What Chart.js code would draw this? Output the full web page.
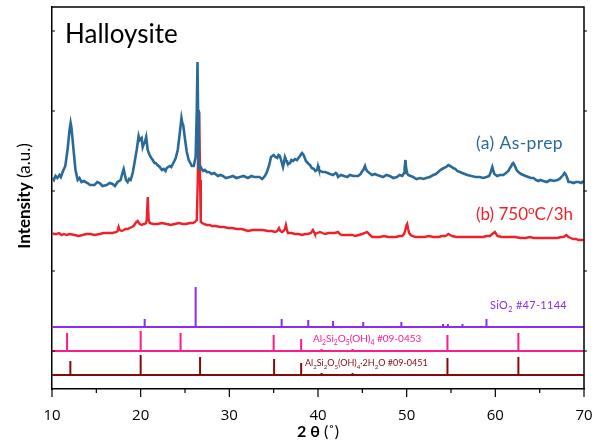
<!DOCTYPE html>
<html><head><meta charset="utf-8">
<script src="https://cdn.jsdelivr.net/npm/chart.js@4/dist/chart.umd.min.js"></script>
<style>html,body{margin:0;padding:0;background:#fff;}canvas{display:block}</style>
</head><body>
<canvas id="c" width="597" height="448"></canvas>
<script>
// ---- data (2θ in degrees, intensity in arbitrary units) ----
const asPrep = [
[10.0,211],[10.2,209],[10.4,213],[10.6,211],[10.85,214],[11.0,212],[11.2,217],[11.5,223],[11.75,239],[11.98,259],[12.1,266],[12.2,261],
[12.43,239],[12.65,219],[12.9,209],[13.1,211],[13.33,207],[13.6,208],[14.0,206],[14.3,204],[14.8,204],[15.1,207],[15.37,206],[15.7,203],
[16.16,204],[16.5,206],[16.84,205],[17.1,203],[17.4,207],[17.74,209],[17.97,217],[18.08,220],[18.2,215],[18.35,209],[18.53,207],[18.7,210],
[18.87,209],[19.1,216],[19.32,227],[19.55,239],[19.77,253],[19.9,249],[20.0,250],[20.11,251],[20.23,242],[20.35,245],[20.45,246],[20.62,252],
[20.79,239],[21.0,234],[21.2,231],[21.36,229],[21.55,226],[21.7,226],[21.9,224],[22.15,222],[22.4,219],[22.6,220],[22.8,218],[22.94,221],
[23.1,222],[23.28,223],[23.45,222],[23.62,225],[23.8,228],[23.95,231],[24.18,239],[24.4,255],[24.6,271],[24.7,266],[24.8,264],[24.97,252],
[25.2,237],[25.42,229],[25.6,226],[25.76,223],[25.99,223],[26.2,232],[26.33,279],[26.41,327],[26.47,279],[26.55,221],[26.7,223],[26.9,220],
[27.05,218],[27.23,219],[27.46,217],[27.7,217],[28.02,215],[28.3,216],[28.7,213],[29.0,214],[29.27,213],[29.6,211],[30.06,212],[30.4,213],
[30.8,211],[31.2,212],[31.6,213],[32.1,211],[32.5,213],[32.8,212],[33.1,212],[33.4,212],[33.7,210],[34.0,213],[34.24,217],[34.5,224],
[34.7,232],[34.85,233],[35.0,234],[35.2,232],[35.4,231],[35.55,234],[35.7,233],[35.9,227],[36.05,222],[36.15,226],[36.27,232],[36.4,229],
[36.5,227],[36.65,225],[36.84,226],[37.0,229],[37.18,228],[37.4,230],[37.63,229],[37.8,231],[37.97,233],[38.1,235],[38.2,236],[38.3,235],
[38.42,233],[38.64,228],[38.85,226],[39.1,224],[39.3,221],[39.55,220],[39.7,218],[39.9,219],[40.0,223],[40.1,220],[40.22,218],[40.5,217],
[40.8,217],[41.1,216],[41.36,215],[41.7,214],[42.0,216],[42.15,215],[42.26,212],[42.6,214],[42.94,213],[43.3,212],[43.6,214],[44.0,213],
[44.5,213],[44.8,215],[45.0,218],[45.1,219],[45.3,223],[45.4,220],[45.53,218],[45.8,216],[46.1,214],[46.4,215],[46.67,214],[47.0,213],
[47.35,212],[47.7,214],[48.1,213],[48.5,211],[48.9,212],[49.2,214],[49.5,213],[49.7,216],[49.77,221],[49.86,229],[49.94,221],[50.05,216],
[50.17,214],[50.45,213],[50.73,212],[51.1,210],[51.53,211],[51.9,210],[52.2,211],[52.6,212],[53.0,214],[53.3,215],[53.56,217],[53.8,219],
[54.0,220],[54.2,221],[54.46,222],[54.7,224],[54.9,223],[55.1,222],[55.25,221],[55.5,220],[55.7,218],[56.0,217],[56.27,216],[56.55,215],
[56.84,214],[57.3,213],[57.74,212],[58.2,212],[58.65,211],[59.0,212],[59.3,213],[59.45,216],[59.55,219],[59.66,222],[59.78,218],[59.89,215],
[60.2,213],[60.5,214],[60.9,214],[61.2,216],[61.47,218],[61.65,221],[61.8,223],[61.9,225],[62.03,226],[62.15,224],[62.26,222],[62.4,219],
[62.6,217],[62.9,215],[63.16,214],[63.4,213],[63.73,212],[64.0,211],[64.3,211],[64.6,209],[64.86,208],[65.1,209],[65.42,208],[65.8,207],
[66.2,209],[66.6,208],[67.0,209],[67.25,210],[67.46,212],[67.65,214],[67.8,216],[67.9,215],[68.02,213],[68.15,210],[68.25,207],[68.5,207],
[68.8,206],[69.1,207],[69.38,207],[69.7,206],[69.95,208]
];
const heated = [
[10.02,156],[10.25,155],[10.5,155],[10.8,156],[11.07,154],[11.35,155],[11.64,154],[12.0,155],[12.54,154],[13.0,153],[13.45,154],[13.9,155],
[14.35,155],[14.8,154],[15.37,155],[15.8,156],[16.27,156],[16.8,156],[17.29,157],[17.4,158],[17.51,162],[17.63,159],[17.85,158],[18.1,159],
[18.3,160],[18.55,160],[18.76,161],[19.0,162],[19.2,163],[19.35,165],[19.5,167],[19.66,168],[19.8,166],[19.89,165],[20.11,164],[20.3,165],
[20.45,165],[20.6,166],[20.68,169],[20.8,192],[20.9,169],[21.02,166],[21.4,165],[21.92,165],[22.4,166],[22.94,165],[23.4,164],[23.84,165],
[24.3,166],[24.75,165],[25.1,165],[25.54,166],[25.9,166],[26.1,167],[26.33,169],[26.44,209],[26.53,276],[26.61,276],[26.7,209],[26.78,167],
[26.95,166],[27.12,165],[27.46,164],[27.8,164],[28.02,163],[28.5,163],[28.93,162],[29.4,162],[29.83,161],[30.3,161],[30.85,160],[31.4,160],
[32.1,158],[32.6,159],[33.2,159],[33.8,159],[34.35,158],[34.8,158],[35.14,157],[35.4,158],[35.6,161],[35.75,158],[35.93,157],[36.1,158],
[36.27,160],[36.38,164],[36.48,160],[36.6,156],[37.0,156],[37.4,155],[37.8,155],[38.2,154],[38.55,155],[38.87,155],[39.2,156],[39.43,159],
[39.55,157],[39.66,155],[39.95,156],[40.22,157],[40.5,156],[40.8,155],[41.2,156],[41.6,156],[41.9,156],[42.26,157],[42.45,155],[42.7,154],
[43.1,154],[43.6,154],[43.9,154],[44.2,153],[44.6,154],[44.97,155],[45.3,156],[45.5,157],[45.65,156],[45.85,154],[46.1,152],[46.5,152],
[47.0,152],[47.45,153],[47.9,152],[48.35,152],[48.8,152],[49.2,153],[49.5,153],[49.7,155],[49.83,158],[49.95,163],[50.06,165],[50.17,160],
[50.28,156],[50.45,154],[50.62,153],[51.0,152],[51.53,152],[52.0,152],[52.5,153],[53.0,152],[53.6,152],[54.0,153],[54.35,153],[54.55,154],
[54.7,155],[54.9,154],[55.14,153],[55.6,152],[56.05,152],[56.6,152],[57.2,152],[57.9,152],[58.65,152],[59.0,153],[59.4,153],[59.65,155],
[59.8,156],[59.95,157],[60.1,155],[60.23,153],[60.7,152],[61.13,152],[61.7,152],[62.26,152],[62.8,151],[63.4,151],[63.9,152],[64.3,151],
[65.0,151],[65.65,151],[66.3,151],[67.0,151],[67.4,152],[67.68,152],[67.85,153],[68.02,154],[68.15,153],[68.25,152],[68.5,151],[68.8,150],
[69.1,150],[69.38,149],[69.7,149],[69.95,149]
];
// reference stick patterns: peak positions (2θ) and relative heights
const sio2Pos = [20.45, 26.2, 35.9, 38.9, 41.7, 45.1, 49.4, 54.1, 54.65, 56.3, 59.0];
const sio2H   = [8, 40, 8, 7, 6, 5, 5, 3, 3, 3, 8];
const hal7Pos = [11.7, 20.0, 24.5, 35.0, 38.1, 40.4, 43.9, 54.6, 62.6];
const hal7H   = [18, 20, 18, 16, 12, 2, 2, 16, 18];
const hal10Pos = [12.07, 20.0, 26.7, 35.05, 38.1, 40.4, 43.9, 54.6, 62.6];
const hal10H   = [14, 20, 18, 16, 12, 2, 2, 17, 18];
// baselines of the stacked reference patterns
const sio2Base = 62, hal7Base = 38, hal10Base = 14;
const xTickLabels = [10, 20, 30, 40, 50, 60, 70];
const yTickValues = [38, 118, 198, 278, 358];

const C_BLUE = '#2a6a98', C_RED = '#ec2129', C_PURP = '#8a2cf2', C_PINK = '#ff1a8c', C_DRED = '#860a0a';

function stickSeries(pos, h, base) {
  const pts = [{x: 10, y: base}];
  pos.forEach((p, i) => { pts.push({x: p, y: base}, {x: p, y: base + h[i]}, {x: p, y: base}); });
  pts.push({x: 70, y: base});
  return pts;
}
const toXY = arr => arr.map(d => ({x: d[0], y: d[1]}));

function richText(ctx, x, y, segs, size, family, color, align, spacing) {
  ctx.save();
  ctx.fillStyle = color;
  ctx.textBaseline = 'alphabetic';
  ctx.textAlign = 'left';
  if (spacing) ctx.letterSpacing = spacing + 'px';
  const parts = segs.map(s => {
    const sz = s.s ? size * 0.68 : size;
    const font = (s.b ? 'bold ' : '') + sz + 'px ' + family;
    ctx.font = font;
    return {t: s.t, font, w: ctx.measureText(s.t).width, dy: s.s === 'sub' ? size * 0.28 : (s.s === 'sup' ? -size * 0.38 : 0)};
  });
  const total = parts.reduce((a, p) => a + p.w, 0);
  let cx = align === 'right' ? x - total : (align === 'center' ? x - total / 2 : x);
  parts.forEach(p => { ctx.font = p.font; ctx.fillText(p.t, cx, y + p.dy); cx += p.w; });
  ctx.restore();
}

const decor = {
  id: 'decor',
  afterDraw(chart) {
    const {ctx, chartArea: a, scales: {x, y}} = chart;
    ctx.save();
    ctx.strokeStyle = '#000';
    ctx.lineWidth = 1.5;
    ctx.beginPath();
    ctx.moveTo(a.left, a.top); ctx.lineTo(a.right, a.top); ctx.lineTo(a.right, a.bottom);
    ctx.stroke();
    ctx.lineWidth = 1.2;
    ctx.beginPath();
    for (let v = 10; v <= 70; v += 5) {
      const px = x.getPixelForValue(v);
      ctx.moveTo(px, a.bottom); ctx.lineTo(px, a.bottom + (v % 10 === 0 ? 8 : 4));
    }
    yTickValues.forEach(v => {
      const py = y.getPixelForValue(v);
      ctx.moveTo(a.left, py); ctx.lineTo(a.left + 3, py);
      ctx.moveTo(a.right, py); ctx.lineTo(a.right + 3, py);
    });
    ctx.stroke();
    ctx.restore();

    const F = 'Lato, "Open Sans", sans-serif';
    richText(ctx, 65, 43, [{t: 'Halloysite'}], 26, F, '#000', 'left');
    richText(ctx, 563, 149, [{t: '(a) As-prep'}], 17.5, F, C_BLUE, 'right', 0.4);
    richText(ctx, 573, 220, [{t: '(b) 750'}, {t: 'o', s: 'sup'}, {t: 'C/3h'}], 17, F, C_RED, 'right');
    richText(ctx, 490, 309, [{t: 'SiO'}, {t: '2', s: 'sub'}, {t: ' #47-1144'}], 11, F, C_PURP, 'left', 0.3);
    richText(ctx, 313, 342, [{t: 'Al'}, {t: '2', s: 'sub'}, {t: 'Si'}, {t: '2', s: 'sub'}, {t: 'O'}, {t: '5', s: 'sub'}, {t: '(OH)'}, {t: '4', s: 'sub'}, {t: ' #09-0453'}], 10, F, C_PINK, 'left', 0);
    richText(ctx, 305, 366, [{t: 'Al'}, {t: '2', s: 'sub'}, {t: 'Si'}, {t: '2', s: 'sub'}, {t: 'O'}, {t: '5', s: 'sub'}, {t: '(OH)'}, {t: '4', s: 'sub'}, {t: '·2H'}, {t: '2', s: 'sub'}, {t: 'O #09-0451'}], 9, F, C_DRED, 'left', 0);

    // axis titles
    richText(ctx, (a.left + a.right) / 2, 437, [{t: '2 θ', b: true}, {t: ' (˚)'}], 16, F, '#000', 'center');
    ctx.save();
    ctx.translate(30, 196);
    ctx.rotate(-Math.PI / 2);
    richText(ctx, 0, 0, [{t: 'Intensity', b: true}, {t: ' (a.u.)'}], 17, F, '#000', 'center');
    ctx.restore();
  }
};

const lineDs = (label, data, color, w) => ({label, data, borderColor: color, backgroundColor: color, borderWidth: w, pointRadius: 0, tension: 0, fill: false});

new Chart(document.getElementById('c'), {
  type: 'line',
  data: {
    datasets: [
      lineDs('(a) As-prep', toXY(asPrep), C_BLUE, 2.6),
      lineDs('(b) 750°C/3h', toXY(heated), C_RED, 2.4),
      lineDs('SiO2 #47-1144', stickSeries(sio2Pos, sio2H, sio2Base), C_PURP, 2),
      lineDs('Al2Si2O5(OH)4 #09-0453', stickSeries(hal7Pos, hal7H, hal7Base), C_PINK, 2),
      lineDs('Al2Si2O5(OH)4·2H2O #09-0451', stickSeries(hal10Pos, hal10H, hal10Base), C_DRED, 2)
    ]
  },
  options: {
    responsive: false,
    animation: false,
    devicePixelRatio: 1,
    layout: {padding: {top: 7, right: 13, left: 0, bottom: 0}},
    plugins: {legend: {display: false}, tooltip: {enabled: false}},
    scales: {
      x: {
        type: 'linear', min: 10, max: 70,
        afterBuildTicks: s => { s.ticks = xTickLabels.map(v => ({value: v})); },
        ticks: {color: '#000', font: {family: '"Open Sans", sans-serif', size: 15}, padding: 10, maxRotation: 0},
        grid: {display: false},
        border: {display: true, color: '#000', width: 1.5},
        afterFit: s => { s.height = 59; s.paddingLeft = 0; s.paddingRight = 0; }
      },
      y: {
        type: 'linear', min: 0, max: 382,
        ticks: {display: false},
        grid: {display: false},
        border: {display: true, color: '#000', width: 1.5},
        afterFit: s => { s.width = 52; s.paddingTop = 0; s.paddingBottom = 0; }
      }
    }
  },
  plugins: [decor]
});
</script>
</body></html>
